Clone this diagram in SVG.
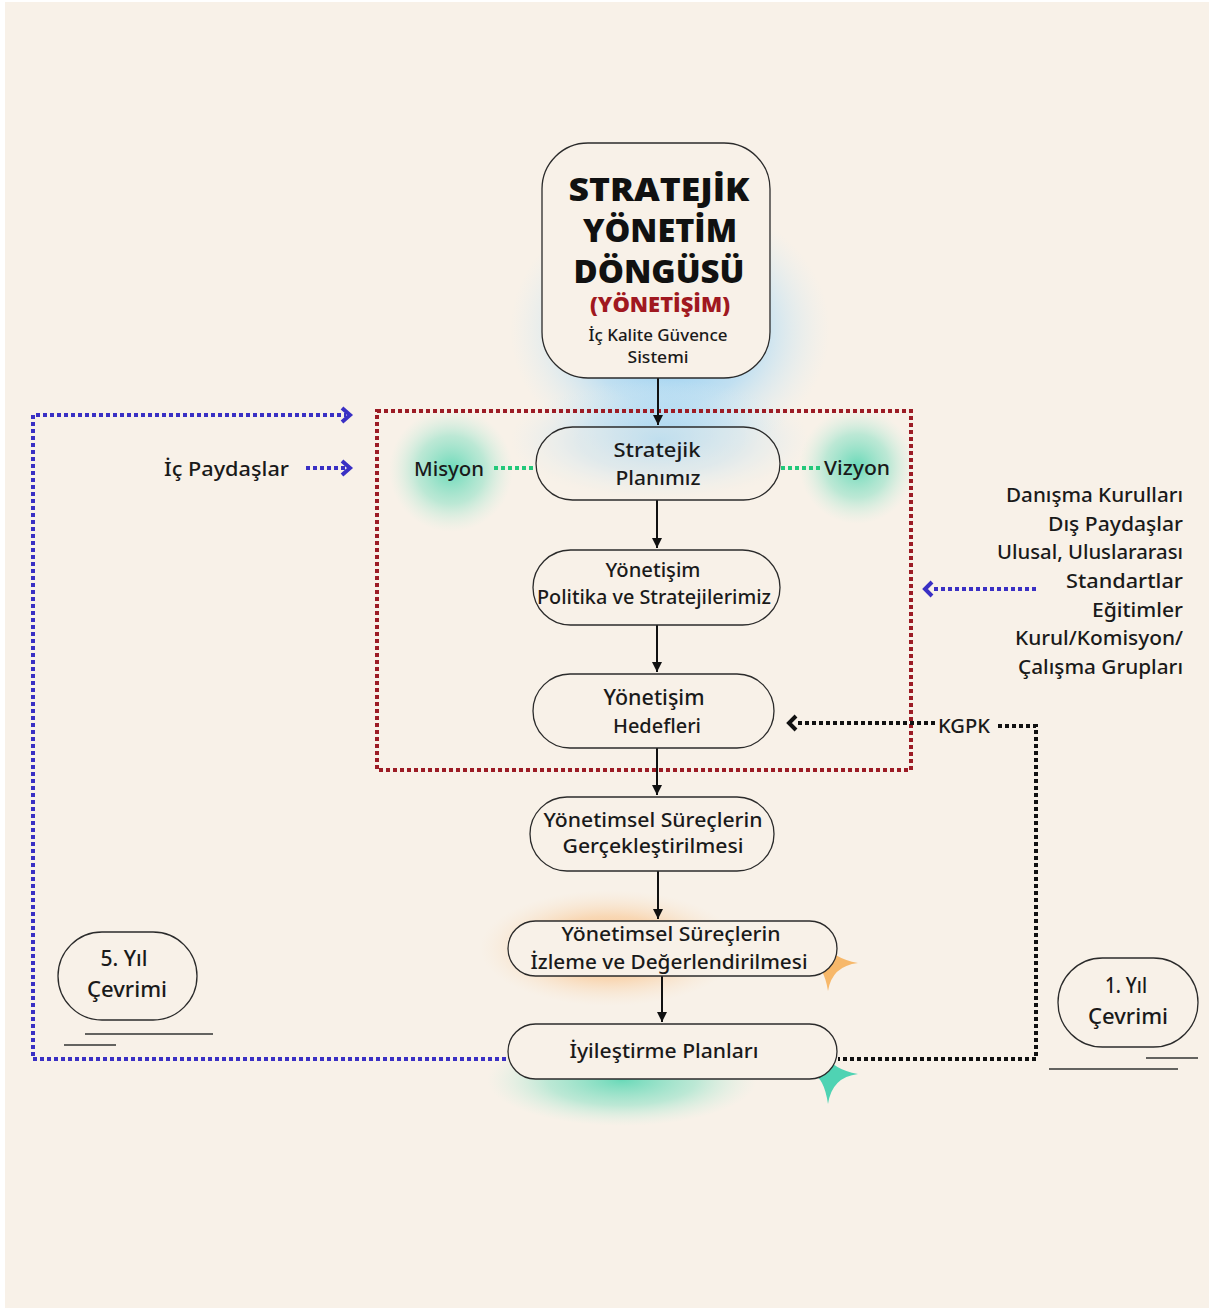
<svg xmlns="http://www.w3.org/2000/svg" width="1211" height="1310" viewBox="0 0 1211 1310">
<defs>
<style>
.node{fill:#f8f1e8;stroke:#2b2b2b;stroke-width:1.3}
.t{font-family:"Noto Sans","Open Sans","DejaVu Sans",sans-serif;font-size:20px;font-weight:500;fill:#1a1a1a;text-anchor:middle}
.tr{font-family:"Noto Sans","Open Sans","DejaVu Sans",sans-serif;font-size:20px;font-weight:500;fill:#1a1a1a;text-anchor:end}
.title{font-family:"Open Sans","Noto Sans","DejaVu Sans",sans-serif;font-weight:800;font-size:32px;fill:#111;text-anchor:middle}
.flow{stroke:#111;stroke-width:2;fill:none;marker-end:url(#ah)}
.dot{fill:none;stroke-width:4;stroke-dasharray:4 3}
.blue{stroke:#3a30c4}
.green{stroke:#22c87a}
.red{stroke:#9c1c25}
.blk{stroke:#111}
.chev{fill:none;stroke-width:4;stroke-linejoin:miter}
.under{stroke:#333;stroke-width:1.3}
</style>
<marker id="ah" markerUnits="userSpaceOnUse" viewBox="0 0 10 10" refX="10" refY="5" markerWidth="10" markerHeight="10" orient="auto">
<path d="M0,0 L10,5 L0,10 z" fill="#111"/>
</marker>
<radialGradient id="gBlue"><stop offset="0" stop-color="#7cc6f4" stop-opacity="1"/><stop offset="0.55" stop-color="#a9d8f5" stop-opacity="0.7"/><stop offset="1" stop-color="#d6ecf5" stop-opacity="0"/></radialGradient>
<radialGradient id="gTeal"><stop offset="0" stop-color="#62d8b6" stop-opacity="0.95"/><stop offset="0.55" stop-color="#94e2c8" stop-opacity="0.6"/><stop offset="1" stop-color="#c9efe0" stop-opacity="0"/></radialGradient>
<radialGradient id="gOrange"><stop offset="0" stop-color="#f8ad62" stop-opacity="0.95"/><stop offset="0.55" stop-color="#f9c793" stop-opacity="0.6"/><stop offset="1" stop-color="#f8e2c8" stop-opacity="0"/></radialGradient>
</defs>

<rect x="0" y="0" width="1211" height="1310" fill="#ffffff"/>
<rect x="5" y="2" width="1204" height="1306" fill="#f8f1e8"/>

<g id="glows">
<ellipse cx="670" cy="330" rx="160" ry="135" fill="url(#gBlue)"/>
<ellipse cx="660" cy="440" rx="150" ry="60" fill="url(#gBlue)" opacity="0.6"/>
<circle cx="451" cy="470" r="62" fill="url(#gTeal)"/>
<circle cx="857" cy="466" r="58" fill="url(#gTeal)"/>
<ellipse cx="610" cy="948" rx="130" ry="58" fill="url(#gOrange)"/>
<ellipse cx="622" cy="1080" rx="135" ry="46" fill="url(#gTeal)"/>
</g>

<g id="sparkles">
<path d="M858,963 Q832,966 828,991 Q824,966 812,963 Q824,958 828,945 Q832,958 858,963 Z" fill="#f7b86a"/>
<path d="M858,1074 Q832,1077 828,1104 Q824,1077 812,1074 Q824,1069 828,1056 Q832,1069 858,1074 Z" fill="#4fd3b3"/>
</g>

<g id="connectors">
<rect x="377" y="411" width="534" height="359" class="dot red"/>
<line x1="658" y1="378" x2="658" y2="425" class="flow"/>
<line x1="657" y1="500" x2="657" y2="548" class="flow"/>
<line x1="657" y1="625" x2="657" y2="672" class="flow"/>
<line x1="657" y1="748" x2="657" y2="795" class="flow"/>
<line x1="658" y1="871" x2="658" y2="919" class="flow"/>
<line x1="662" y1="976" x2="662" y2="1022" class="flow"/>
<line x1="494" y1="468" x2="535" y2="468" class="dot green"/>
<line x1="781" y1="468" x2="821" y2="468" class="dot green"/>
<path d="M506,1059 H33 V415 H346" class="dot blue"/>
<path d="M342,408 L350,415 L342,422" class="chev blue"/>
<line x1="306" y1="468" x2="346" y2="468" class="dot blue"/>
<path d="M342,461 L350,468 L342,475" class="chev blue"/>
<line x1="1036" y1="589" x2="931" y2="589" class="dot blue"/>
<path d="M932,582 L925,589 L932,596" class="chev blue"/>
<line x1="935" y1="723" x2="795" y2="723" class="dot blk"/>
<path d="M796,716 L789,723 L796,730" class="chev blk"/>
<path d="M998,726 H1036 V1059 H838" class="dot blk"/>
</g>

<g id="node-title">
<rect x="542" y="143" width="228" height="235" rx="46" class="node"/>
<text x="659" y="201" class="title" textLength="181" lengthAdjust="spacingAndGlyphs">STRATEJİK</text>
<text x="660" y="242" class="title" textLength="154" lengthAdjust="spacingAndGlyphs">YÖNETİM</text>
<text x="659" y="283" class="title" textLength="171" lengthAdjust="spacingAndGlyphs">DÖNGÜSÜ</text>
<text x="660" y="312" class="title" style="font-size:21px;fill:#a01820" textLength="140" lengthAdjust="spacingAndGlyphs">(YÖNETİŞİM)</text>
<text x="658" y="341" class="t" style="font-size:16px" textLength="139" lengthAdjust="spacingAndGlyphs">İç Kalite Güvence</text>
<text x="658" y="363" class="t" style="font-size:16px" textLength="61" lengthAdjust="spacingAndGlyphs">Sistemi</text>
</g>

<g id="node-stratejik">
<rect x="536" y="427" width="244" height="73" rx="36.5" class="node" style="fill-opacity:0.3"/>
<text x="657" y="457" class="t" textLength="87" lengthAdjust="spacingAndGlyphs">Stratejik</text>
<text x="658" y="485" class="t" textLength="85" lengthAdjust="spacingAndGlyphs">Planımız</text>
</g>

<g id="node-misyon">
<text x="449" y="476" class="t" textLength="70" lengthAdjust="spacingAndGlyphs">Misyon</text>
</g>
<g id="node-vizyon">
<text x="857" y="475" class="t" textLength="66" lengthAdjust="spacingAndGlyphs">Vizyon</text>
</g>
<g id="node-ic-paydaslar">
<text x="289" y="476" class="tr" textLength="125" lengthAdjust="spacingAndGlyphs">İç Paydaşlar</text>
</g>

<g id="node-politika">
<rect x="533" y="550" width="247" height="75" rx="37.5" class="node"/>
<text x="653" y="577" class="t" textLength="95" lengthAdjust="spacingAndGlyphs">Yönetişim</text>
<text x="654" y="604" class="t" textLength="234" lengthAdjust="spacingAndGlyphs">Politika ve Stratejilerimiz</text>
</g>

<g id="node-hedefler">
<rect x="533" y="674" width="241" height="74" rx="37" class="node"/>
<text x="654" y="705" class="t" style="font-size:21px" textLength="101" lengthAdjust="spacingAndGlyphs">Yönetişim</text>
<text x="657" y="733" class="t" textLength="88" lengthAdjust="spacingAndGlyphs">Hedefleri</text>
</g>

<g id="node-gerceklestirme">
<rect x="530" y="797" width="244" height="74" rx="37" class="node"/>
<text x="653" y="827" class="t" textLength="219" lengthAdjust="spacingAndGlyphs">Yönetimsel Süreçlerin</text>
<text x="653" y="853" class="t" textLength="181" lengthAdjust="spacingAndGlyphs">Gerçekleştirilmesi</text>
</g>

<g id="node-izleme">
<rect x="508" y="921" width="329" height="55" rx="27.5" class="node"/>
<text x="671" y="941" class="t" textLength="219" lengthAdjust="spacingAndGlyphs">Yönetimsel Süreçlerin</text>
<text x="669" y="969" class="t" textLength="277" lengthAdjust="spacingAndGlyphs">İzleme ve Değerlendirilmesi</text>
</g>

<g id="node-iyilestirme">
<rect x="508" y="1024" width="329" height="55" rx="27.5" class="node"/>
<text x="664" y="1058" class="t" textLength="189" lengthAdjust="spacingAndGlyphs">İyileştirme Planları</text>
</g>

<g id="node-dis-kaynaklar">
<text x="1183" y="502" class="tr" textLength="177" lengthAdjust="spacingAndGlyphs">Danışma Kurulları</text>
<text x="1183" y="531" class="tr" textLength="135" lengthAdjust="spacingAndGlyphs">Dış Paydaşlar</text>
<text x="1183" y="559" class="tr" textLength="186" lengthAdjust="spacingAndGlyphs">Ulusal, Uluslararası</text>
<text x="1183" y="588" class="tr" textLength="117" lengthAdjust="spacingAndGlyphs">Standartlar</text>
<text x="1183" y="617" class="tr" textLength="91" lengthAdjust="spacingAndGlyphs">Eğitimler</text>
<text x="1183" y="645" class="tr" textLength="168" lengthAdjust="spacingAndGlyphs">Kurul/Komisyon/</text>
<text x="1183" y="674" class="tr" textLength="165" lengthAdjust="spacingAndGlyphs">Çalışma Grupları</text>
</g>

<g id="node-kgpk">
<text x="964" y="733" class="t" textLength="52" lengthAdjust="spacingAndGlyphs">KGPK</text>
</g>

<g id="node-5yil">
<rect x="58" y="932" width="139" height="88" rx="44" class="node"/>
<text x="124" y="966" class="t" style="font-size:21px" textLength="47" lengthAdjust="spacingAndGlyphs">5. Yıl</text>
<text x="127" y="997" class="t" style="font-size:21px" textLength="80" lengthAdjust="spacingAndGlyphs">Çevrimi</text>
<line x1="85" y1="1034" x2="213" y2="1034" class="under"/>
<line x1="64" y1="1045" x2="116" y2="1045" class="under"/>
</g>

<g id="node-1yil">
<rect x="1058" y="958" width="140" height="89" rx="44.5" class="node"/>
<text x="1126" y="993" class="t" style="font-size:21px" textLength="42" lengthAdjust="spacingAndGlyphs">1. Yıl</text>
<text x="1128" y="1024" class="t" style="font-size:21px" textLength="80" lengthAdjust="spacingAndGlyphs">Çevrimi</text>
<line x1="1146" y1="1058" x2="1198" y2="1058" class="under"/>
<line x1="1049" y1="1069" x2="1178" y2="1069" class="under"/>
</g>
</svg>
